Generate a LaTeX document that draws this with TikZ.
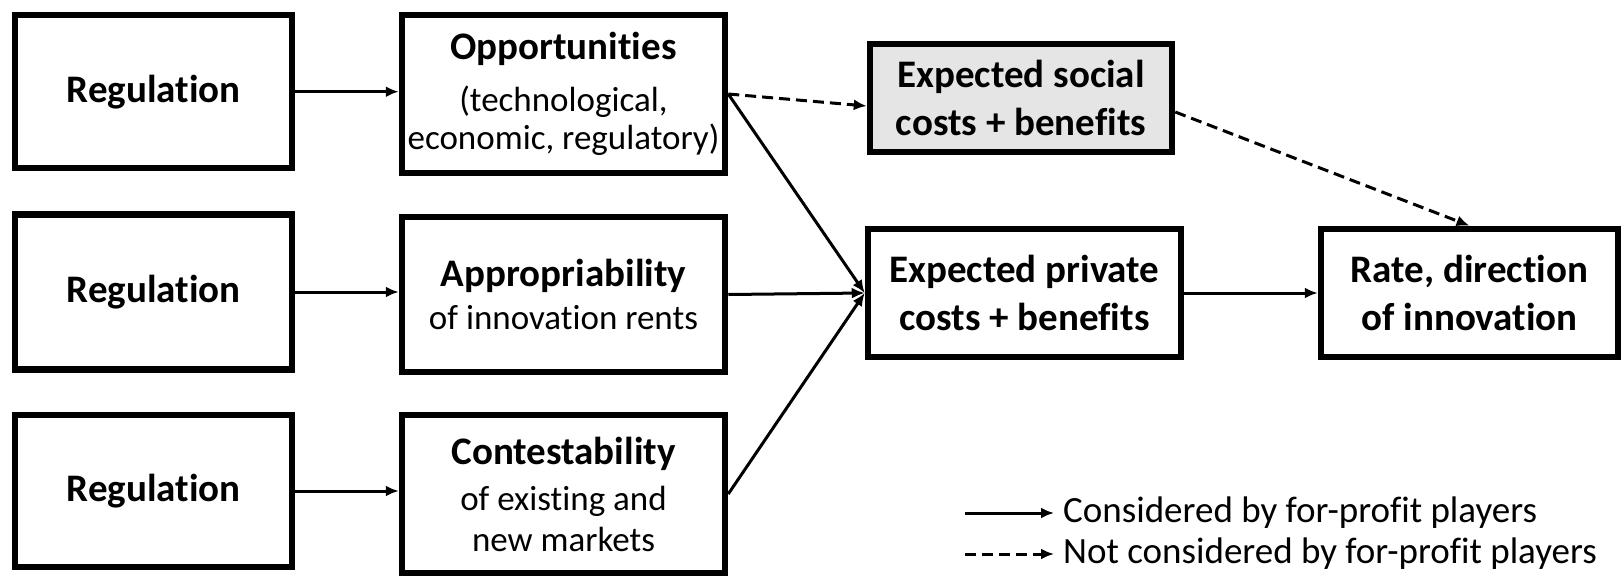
\documentclass[tikz,border=0pt]{standalone}
\usepackage{fontspec}
\setmainfont[Ligatures=NoCommon]{Carlito}
\usetikzlibrary{arrows.meta,calc}
\newcommand\btf{\fontsize{39}{48}\selectfont\bfseries}
\newcommand\rtf{\fontsize{35}{38}\selectfont\mdseries}
\begin{document}
\begin{tikzpicture}[x=1pt,y=-1pt,
  box/.style={draw, line width=6.5pt, inner sep=0pt, align=center, font=\btf},
  sbox/.style={box, font=\rtf},
  con/.style={line width=3pt, -{Latex[length=13pt,width=11pt]}},
  ncon/.style={con, dash pattern=on 11pt off 6pt},
  leg/.style={anchor=west, inner sep=0pt, font=\fontsize{37}{40}\selectfont}]
\useasboundingbox (0,0) rectangle (1624,581);
\node[box, minimum width=277pt, minimum height=153pt] (reg1) at (153.7,91.7) {Regulation};
\node[box, minimum width=277pt, minimum height=155pt] (reg2) at (153.7,292) {Regulation};
\node[box, minimum width=277pt, minimum height=152pt] (reg3) at (153.7,491) {Regulation};
\node[sbox, minimum width=323pt, minimum height=158pt] (opp) at (563.5,94) {{\btf Opportunities}\\[14pt](technological,\\economic, regulatory)};
\node[sbox, minimum width=323pt, minimum height=155pt] (app) at (563.5,294.5) {{\btf Appropriability}\\[5pt]of innovation rents};
\node[sbox, minimum width=323pt, minimum height=158pt] (con) at (563.5,494) {{\btf Contestability}\\[8pt]of existing and\\[3pt]new markets};
\node[box, fill=black!10, minimum width=302pt, minimum height=108pt] (soc) at (1021,98) {Expected social\\costs + benefits};
\node[box, minimum width=313pt, minimum height=128pt] (pri) at (1024.5,293) {Expected private\\costs + benefits};
\node[box, minimum width=297pt, minimum height=128pt] (rate) at (1469.5,293) {Rate, direction\\of innovation};
\draw[con] (reg1.east) -- (reg1.east -| opp.west);
\draw[con] (reg2.east) -- (reg2.east -| app.west);
\draw[con] (reg3.east) -- (reg3.east -| con.west);
\draw[con] (opp.east) -- (pri.west);
\draw[con] (app.east) -- (pri.west);
\draw[con] (con.east) -- (pri.west);
\draw[con] (pri.east) -- (rate.west);
\draw[ncon] (opp.east) -- ($(soc.west)+(0,8)$);
\draw[ncon] ($(soc.east)+(0,14)$) -- (rate.north);
\coordinate (l1a) at (965,513);
\coordinate (l1b) at (1054,513);
\coordinate (l2a) at (965,554);
\coordinate (l2b) at (1054,554);
\draw[con] (l1a) -- (l1b);
\draw[ncon] (l2a) -- (l2b);
\node[leg] (t1) at (1063,513) {Considered by for-profit players};
\node[leg] (t2) at (1063,554) {Not considered by for-profit players};
\end{tikzpicture}
\end{document}
